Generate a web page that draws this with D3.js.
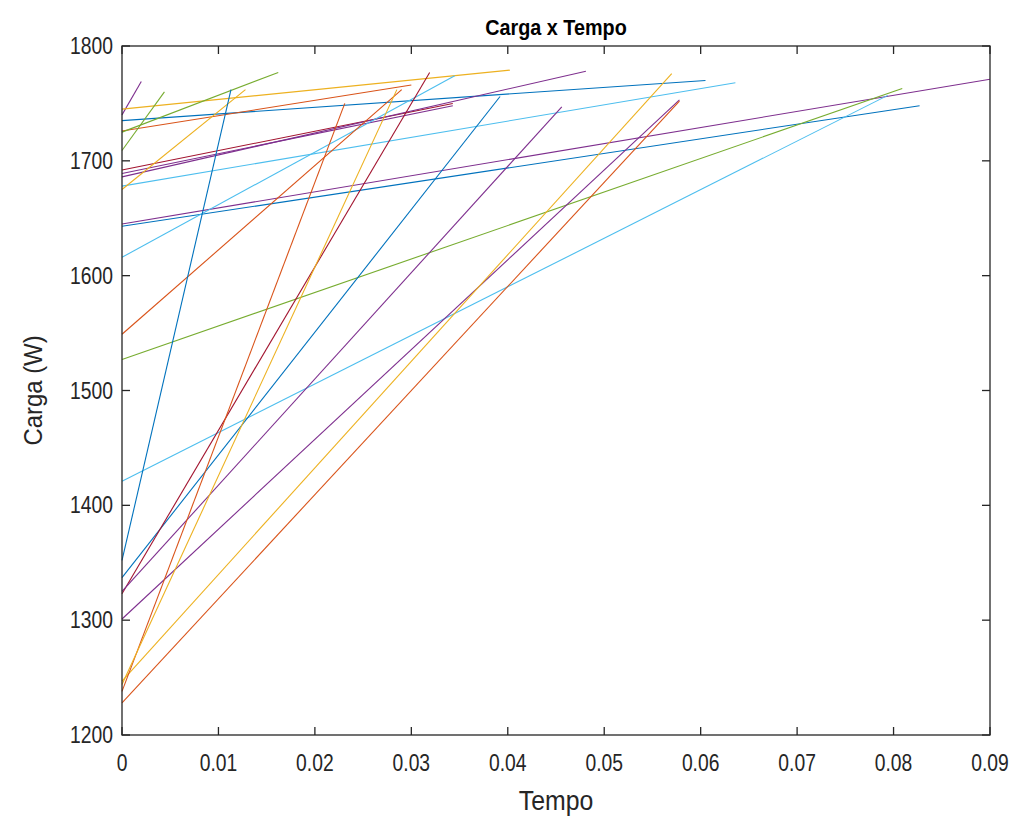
<!DOCTYPE html>
<html>
<head>
<meta charset="utf-8">
<script src="https://cdn.jsdelivr.net/npm/d3@7"></script>
<style>
  html, body { margin: 0; padding: 0; background: #fff; }
  svg text { font-family: "Liberation Sans", Arial, Helvetica, sans-serif; fill: #262626; }
</style>
</head>
<body>
<svg id="chart" width="1021" height="823"></svg>
<script>
// ---- data ----
const title = "Carga x Tempo";
const xLabel = "Tempo";
const yLabel = "Carga (W)";
const xTicks = [0, 0.01, 0.02, 0.03, 0.04, 0.05, 0.06, 0.07, 0.08, 0.09];
const xTickLabels = ["0", "0.01", "0.02", "0.03", "0.04", "0.05", "0.06", "0.07", "0.08", "0.09"];
const yTicks = [1200, 1300, 1400, 1500, 1600, 1700, 1800];
const yTickLabels = ["1200", "1300", "1400", "1500", "1600", "1700", "1800"];

// each series is a straight segment from t=0 to t=tEnd
const seriesColor = ["purple", "yellow", "blue", "orange", "green", "green", "darkred", "purple",
  "purple", "lightblue", "yellow", "purple", "blue", "lightblue", "orange", "green", "lightblue",
  "blue", "blue", "darkred", "purple", "purple", "yellow", "orange", "orange", "yellow"];
const startLoad = [1740, 1745, 1735, 1726, 1709, 1725, 1692, 1689,
  1686, 1678, 1675, 1645, 1643, 1616, 1549, 1527, 1421,
  1352, 1337, 1323, 1325, 1301, 1247, 1228, 1238, 1244];
const endTime = [0.0020, 0.0402, 0.0605, 0.0300, 0.0044, 0.0162, 0.0343, 0.0343,
  0.0481, 0.0636, 0.0128, 0.0900, 0.0827, 0.0345, 0.0290, 0.0809, 0.0794,
  0.0113, 0.0392, 0.0319, 0.0456, 0.0578, 0.0570, 0.0578, 0.0231, 0.0285];
const endLoad = [1769, 1779, 1770, 1766, 1760, 1777, 1750, 1748,
  1778, 1768, 1762, 1771, 1748, 1774, 1762, 1763, 1757,
  1762, 1756, 1777, 1747, 1753, 1776, 1752, 1750, 1762];

const palette = {
  blue: "#0072BD", orange: "#D95319", yellow: "#EDB120", purple: "#7E2F8E",
  green: "#77AC30", lightblue: "#4DBEEE", darkred: "#A2142F"
};

// ---- layout ----
const svg = d3.select("#chart");
const L = 122, R = 990, T = 46, B = 735;
const x = d3.scaleLinear().domain([0, 0.09]).range([L, R]);
const y = d3.scaleLinear().domain([1200, 1800]).range([B, T]);

svg.append("rect").attr("x", 0).attr("y", 0).attr("width", 1021).attr("height", 823).attr("fill", "#fff");

// lines
const g = svg.append("g");
const line = d3.line().x(d => x(d[0])).y(d => y(d[1]));
startLoad.forEach((s, i) => {
  g.append("path")
    .attr("d", line([[0, s], [endTime[i], endLoad[i]]]))
    .attr("fill", "none")
    .attr("stroke", palette[seriesColor[i]])
    .attr("stroke-width", 1.1);
});

// frame
const axisColor = "#262626";
svg.append("rect").attr("x", L).attr("y", T).attr("width", R - L).attr("height", B - T)
  .attr("fill", "none").attr("stroke", axisColor).attr("stroke-width", 1.3);

const tickLen = 8;
// x ticks (bottom & top, inward)
xTicks.forEach((t, i) => {
  const px = x(t);
  svg.append("line").attr("x1", px).attr("x2", px).attr("y1", B).attr("y2", B - tickLen)
    .attr("stroke", axisColor).attr("stroke-width", 1.3);
  svg.append("line").attr("x1", px).attr("x2", px).attr("y1", T).attr("y2", T + tickLen)
    .attr("stroke", axisColor).attr("stroke-width", 1.3);
  svg.append("text")
    .attr("transform", `translate(${px},${B + 36}) scale(0.84,1)`)
    .attr("text-anchor", "middle")
    .attr("font-size", 23)
    .text(xTickLabels[i]);
});
// y ticks (left & right, inward)
yTicks.forEach((t, i) => {
  const py = y(t);
  svg.append("line").attr("x1", L).attr("x2", L + tickLen).attr("y1", py).attr("y2", py)
    .attr("stroke", axisColor).attr("stroke-width", 1.3);
  svg.append("line").attr("x1", R).attr("x2", R - tickLen).attr("y1", py).attr("y2", py)
    .attr("stroke", axisColor).attr("stroke-width", 1.3);
  svg.append("text")
    .attr("transform", `translate(${L - 9},${py + 8}) scale(0.84,1)`)
    .attr("text-anchor", "end")
    .attr("font-size", 23)
    .text(yTickLabels[i]);
});

// title and axis labels
svg.append("text")
  .attr("transform", `translate(${(L + R) / 2},${T - 11}) scale(0.9,1)`)
  .attr("text-anchor", "middle")
  .attr("font-size", 22)
  .attr("font-weight", "bold")
  .style("fill", "#000")
  .text(title);
svg.append("text")
  .attr("transform", `translate(${(L + R) / 2},${B + 75}) scale(0.92,1)`)
  .attr("text-anchor", "middle")
  .attr("font-size", 27)
  .text(xLabel);
svg.append("text")
  .attr("transform", `translate(42,${(T + B) / 2}) rotate(-90) scale(0.92,1)`)
  .attr("text-anchor", "middle")
  .attr("font-size", 26)
  .text(yLabel);
</script>
</body>
</html>
